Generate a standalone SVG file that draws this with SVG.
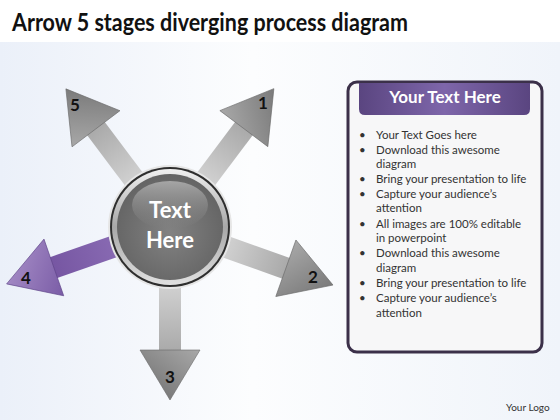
<svg xmlns="http://www.w3.org/2000/svg" width="560" height="420" viewBox="0 0 560 420">
<defs>
<linearGradient id="bg" x1="0" y1="0" x2="1" y2="0">
<stop offset="0" stop-color="#ebf0f9"/>
<stop offset="0.45" stop-color="#fcfdfe"/>
<stop offset="1" stop-color="#f0f4fa"/>
</linearGradient>
<linearGradient id="shaftG" gradientUnits="userSpaceOnUse" x1="50" y1="0" x2="125" y2="0">
<stop offset="0" stop-color="#d6d6d6"/>
<stop offset="1" stop-color="#a9a9a9"/>
</linearGradient>
<linearGradient id="headG" gradientUnits="userSpaceOnUse" x1="123" y1="-30" x2="173" y2="10">
<stop offset="0" stop-color="#a8a8a8"/>
<stop offset="1" stop-color="#767676"/>
</linearGradient>
<linearGradient id="shaftP" gradientUnits="userSpaceOnUse" x1="50" y1="0" x2="125" y2="0">
<stop offset="0" stop-color="#8a6cb4"/>
<stop offset="1" stop-color="#7656a2"/>
</linearGradient>
<linearGradient id="headP" gradientUnits="userSpaceOnUse" x1="123" y1="-30" x2="173" y2="10">
<stop offset="0" stop-color="#7a5ca6"/>
<stop offset="1" stop-color="#a58cc6"/>
</linearGradient>
<radialGradient id="disk" cx="0.5" cy="0.55" r="0.55">
<stop offset="0" stop-color="#828282"/>
<stop offset="1" stop-color="#646464"/>
</radialGradient>
<linearGradient id="ring" x1="0" y1="0" x2="0" y2="1">
<stop offset="0" stop-color="#f0f0f0"/>
<stop offset="0.5" stop-color="#a8a8a8"/>
<stop offset="1" stop-color="#e0e0e0"/>
</linearGradient>
<linearGradient id="hl" x1="0" y1="0" x2="0" y2="1">
<stop offset="0" stop-color="#a6a6a6"/>
<stop offset="1" stop-color="#8a8a8a" stop-opacity="0"/>
</linearGradient>
<linearGradient id="hdr" x1="0" y1="0" x2="1" y2="0">
<stop offset="0" stop-color="#5a4580"/>
<stop offset="0.5" stop-color="#7e66aa"/>
<stop offset="1" stop-color="#5a4580"/>
</linearGradient>
<g id="arrowG">
<path d="M40,-11 L124,-11 L124,11 L40,11 Z" fill="url(#shaftG)"/>
<path d="M123,-30 L173,0 L123,30 Z" fill="url(#headG)" stroke="#6a6a6a" stroke-width="0.6"/>
</g>
<g id="arrowP">
<path d="M40,-11 L124,-11 L124,11 L40,11 Z" fill="url(#shaftP)"/>
<path d="M123,-30 L173,0 L123,30 Z" fill="url(#headP)" stroke="#5e4488" stroke-width="0.6"/>
</g>
</defs>
<style>
.num{font-family:Lato,"Liberation Sans",sans-serif;font-weight:bold;font-size:17px;fill:#111;text-anchor:middle}
.ctr{font-family:Lato,"Liberation Sans",sans-serif;font-weight:bold;font-size:22px;fill:#fff;text-anchor:middle}
.bl{font-family:Lato,"Liberation Sans",sans-serif;font-size:11.5px;fill:#333}
</style>
<rect x="0" y="0" width="560" height="420" fill="url(#bg)"/>
<rect x="0" y="0" width="560" height="42" fill="#ffffff"/>
<text x="12" y="31" font-family="Lato,'Liberation Sans',sans-serif" font-weight="bold" font-size="24" fill="#111" textLength="396" lengthAdjust="spacingAndGlyphs">Arrow 5 stages diverging process diagram</text>

<g id="arrow1"><use href="#arrowG" transform="translate(170,227) rotate(-53.1)"/><text class="num" x="263" y="109">1</text></g>
<g id="arrow2"><use href="#arrowG" transform="translate(170,227) rotate(19.6)"/><text class="num" x="313" y="283">2</text></g>
<g id="arrow3"><use href="#arrowG" transform="translate(170,227) rotate(90)"/><text class="num" x="170" y="383">3</text></g>
<g id="arrow4"><use href="#arrowP" transform="translate(170,227) rotate(160.8)"/><text class="num" x="26" y="284">4</text></g>
<g id="arrow5"><use href="#arrowG" transform="translate(170,227) rotate(-127)"/><text class="num" x="75" y="111">5</text></g>

<g id="center">
<circle cx="170" cy="227" r="62" fill="#e6e6e6"/>
<circle cx="170" cy="227" r="60" fill="#2e2e2e"/>
<circle cx="170" cy="227" r="58" fill="url(#ring)"/>
<circle cx="170" cy="227" r="53" fill="url(#disk)"/>
<ellipse cx="170" cy="205" rx="38" ry="24" fill="url(#hl)"/>
<text class="ctr" x="170" y="218">Text</text>
<text class="ctr" x="170" y="248">Here</text>
</g>

<g id="panel">
<rect x="348" y="82" width="194" height="270" rx="9" fill="#f7f7f8" stroke="#3b3049" stroke-width="3"/>
<path d="M359,83 L530,83 L530,109 Q530,115 524,115 L365,115 Q359,115 359,109 Z" fill="url(#hdr)"/>
<text x="445" y="103" font-family="Lato,'Liberation Sans',sans-serif" font-weight="bold" font-size="17" fill="#fff" text-anchor="middle">Your Text Here</text>
<g class="bl">
<text x="359" y="139">•</text><text x="376" y="139">Your Text Goes here</text>
<text x="359" y="153.5">•</text><text x="376" y="153.5">Download this awesome</text>
<text x="376" y="168">diagram</text>
<text x="359" y="183">•</text><text x="376" y="183">Bring your presentation to life</text>
<text x="359" y="197.5">•</text><text x="376" y="197.5">Capture your audience’s</text>
<text x="376" y="212">attention</text>
<text x="359" y="227.5">•</text><text x="376" y="227.5">All images are 100% editable</text>
<text x="376" y="242">in powerpoint</text>
<text x="359" y="257">•</text><text x="376" y="257">Download this awesome</text>
<text x="376" y="271.5">diagram</text>
<text x="359" y="286.5">•</text><text x="376" y="286.5">Bring your presentation to life</text>
<text x="359" y="301.5">•</text><text x="376" y="301.5">Capture your audience’s</text>
<text x="376" y="316.5">attention</text>
</g>
</g>
<text x="506" y="411" font-family="Lato,'Liberation Sans',sans-serif" font-size="10" fill="#333">Your Logo</text>
</svg>
